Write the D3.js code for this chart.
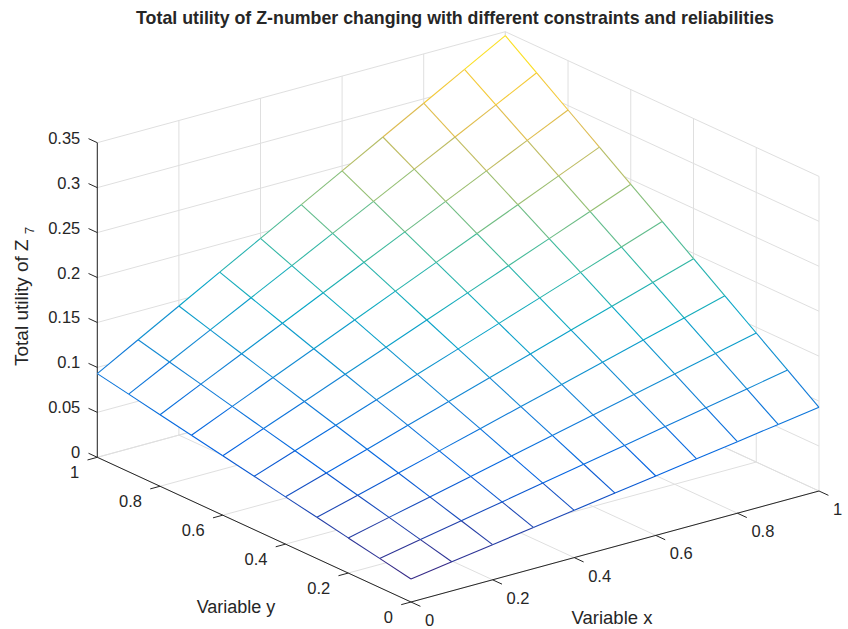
<!DOCTYPE html>
<html><head><meta charset="utf-8">
<script src="https://cdn.jsdelivr.net/npm/d3@7"></script>
<style>
body{margin:0;background:#fff}
text{font-family:"Liberation Sans",Arial,Helvetica,sans-serif;fill:#262626}
</style>
</head><body><svg id="c" width="848" height="629"></svg>
<script>
// ---------------- data ----------------
const xValues = [0,0.1,0.2,0.3,0.4,0.5,0.6,0.7,0.8,0.9,1];
const yValues = [0,0.1,0.2,0.3,0.4,0.5,0.6,0.7,0.8,0.9,1];
// zValues[j][i] : row j = y, column i = x
const zValues = [
 [0.0256,0.0324,0.0391,0.0459,0.0526,0.0594,0.0661,0.0729,0.0796,0.0864,0.0931],
 [0.0324,0.0410,0.0496,0.0582,0.0668,0.0754,0.0840,0.0926,0.1012,0.1098,0.1184],
 [0.0391,0.0496,0.0600,0.0705,0.0809,0.0914,0.1018,0.1123,0.1227,0.1332,0.1436],
 [0.0459,0.0582,0.0705,0.0828,0.0951,0.1074,0.1197,0.1320,0.1443,0.1566,0.1689],
 [0.0526,0.0668,0.0809,0.0951,0.1092,0.1234,0.1375,0.1517,0.1658,0.1800,0.1941],
 [0.0594,0.0754,0.0914,0.1074,0.1234,0.1394,0.1554,0.1714,0.1874,0.2034,0.2194],
 [0.0661,0.0840,0.1018,0.1197,0.1375,0.1554,0.1732,0.1911,0.2089,0.2268,0.2446],
 [0.0729,0.0926,0.1123,0.1320,0.1517,0.1714,0.1911,0.2108,0.2305,0.2502,0.2699],
 [0.0796,0.1012,0.1227,0.1443,0.1658,0.1874,0.2089,0.2305,0.2520,0.2736,0.2951],
 [0.0864,0.1098,0.1332,0.1566,0.1800,0.2034,0.2268,0.2502,0.2736,0.2970,0.3204],
 [0.0931,0.1184,0.1436,0.1689,0.1941,0.2194,0.2446,0.2699,0.2951,0.3204,0.3456]
];
const xTicks = [0,0.2,0.4,0.6,0.8,1];
const yTicks = [0,0.2,0.4,0.6,0.8,1];
const zTicks = [0,0.05,0.1,0.15,0.2,0.25,0.3,0.35];
const titleText = "Total utility of Z-number changing with different constraints and reliabilities";
const xLabelText = "Variable x";
const yLabelText = "Variable y";
const zLabelText = "Total utility of Z";
const zLabelSub = "7";
const parula = ["#352a87","#0363e1","#1485d4","#06a7c6","#38b99e","#92bf73","#d9ba56","#fcce2e","#f9fb0e"];

// ---------------- scales / projection ----------------
const svg = d3.select("#c");
const xs = d3.scaleLinear().domain([0,1]).range([0,1]);
const ys = d3.scaleLinear().domain([0,1]).range([0,1]);
const zs = d3.scaleLinear().domain([0,0.35]).range([0,314.6]);
const O = [411,602], EX = [408,-111], EY = [-313.7,-144.7];
function P(xv,yv,zv){
  const u = xs(xv), v = ys(yv);
  return [O[0]+u*EX[0]+v*EY[0], O[1]+u*EX[1]+v*EY[1]-zs(zv)];
}
const zmin = d3.min(zValues.flat()), zmax = d3.max(zValues.flat());
const color = d3.scaleLinear()
  .domain(parula.map((_,k)=>zmin + k*(zmax-zmin)/(parula.length-1)))
  .range(parula).interpolate(d3.interpolateRgb).clamp(true);

const line = d3.line();
const gridColor = "#dfdfdf", axisColor = "#262626";
const zTop = zs.domain()[1];

// ---------------- grid ----------------
const grid = svg.append("g").attr("stroke",gridColor).attr("stroke-width",1).attr("fill","none");
const gl = [];
xTicks.forEach(t=>{ gl.push([P(t,0,0),P(t,1,0)]); gl.push([P(t,1,0),P(t,1,zTop)]); });
yTicks.forEach(t=>{ gl.push([P(0,t,0),P(1,t,0)]); gl.push([P(1,t,0),P(1,t,zTop)]); });
zTicks.forEach(t=>{ gl.push([P(0,1,t),P(1,1,t)]); gl.push([P(1,0,t),P(1,1,t)]); });
grid.selectAll("path").data(gl).join("path").attr("d",d=>line(d));

// ---------------- axes ----------------
const ax = svg.append("g").attr("stroke",axisColor).attr("stroke-width",1).attr("fill","none");
ax.append("path").attr("d",line([P(0,0,0),P(1,0,0)]));
ax.append("path").attr("d",line([P(0,0,0),P(0,1,0)]));
ax.append("path").attr("d",line([P(0,1,0),P(0,1,zTop)]));
ax.selectAll(".xt").data(xTicks).join("path").attr("d",t=>line([P(t,0,0),P(t,-0.03,0)]));
ax.selectAll(".yt").data(yTicks).join("path").attr("d",t=>line([P(0,t,0),P(-0.024,t,0)]));
ax.selectAll(".zt").data(zTicks).join("path").attr("d",t=>line([P(0,1,t),P(0,1.028,t)]));

const fmt = d3.format("~g");
const tl = svg.append("g").attr("font-size",16.5);
tl.selectAll(".xl").data(xTicks).join("text")
  .attr("x",t=>P(t,0,0)[0]+14).attr("y",t=>P(t,0,0)[1]+18)
  .attr("dominant-baseline","central").attr("text-anchor","start").text(fmt);
tl.selectAll(".yl").data(yTicks).join("text")
  .attr("x",t=>P(0,t,0)[0]-18).attr("y",t=>P(0,t,0)[1]+15)
  .attr("dominant-baseline","central").attr("text-anchor","end").text(fmt);
tl.selectAll(".zl").data(zTicks).join("text")
  .attr("x",t=>P(0,1,t)[0]-17).attr("y",t=>P(0,1,t)[1]-5)
  .attr("dominant-baseline","central").attr("text-anchor","end").text(fmt);

// ---------------- mesh ----------------
const quads = [];
for(let j=0;j<yValues.length-1;j++) for(let i=0;i<xValues.length-1;i++){
  quads.push([P(xValues[i],yValues[j],zValues[j][i]),P(xValues[i+1],yValues[j],zValues[j][i+1]),
              P(xValues[i+1],yValues[j+1],zValues[j+1][i+1]),P(xValues[i],yValues[j+1],zValues[j+1][i])]);
}
svg.append("g").selectAll("path").data(quads).join("path")
  .attr("d",d=>line(d)+"Z").attr("fill","#fff").attr("stroke","#fff").attr("stroke-width",0.8);

const segs = [];
for(let j=0;j<yValues.length;j++) for(let i=0;i<xValues.length;i++){
  if(i<xValues.length-1) segs.push({p:[P(xValues[i],yValues[j],zValues[j][i]),P(xValues[i+1],yValues[j],zValues[j][i+1])],v:zValues[j][i]});
  if(j<yValues.length-1) segs.push({p:[P(xValues[i],yValues[j],zValues[j][i]),P(xValues[i],yValues[j+1],zValues[j+1][i])],v:zValues[j][i]});
}
svg.append("g").attr("fill","none").attr("stroke-width",1.1).selectAll("path").data(segs).join("path")
  .attr("d",d=>line(d.p)).attr("stroke",d=>color(d.v));

// ---------------- labels ----------------
svg.append("text").attr("x",455).attr("y",18).attr("text-anchor","middle").attr("dominant-baseline","central")
  .attr("font-size",17.8).attr("font-weight","bold").attr("fill","#000").text(titleText);
svg.append("text").attr("x",612).attr("y",617).attr("text-anchor","middle").attr("dominant-baseline","central")
  .attr("font-size",18.5).text(xLabelText);
svg.append("text").attr("x",236).attr("y",607).attr("text-anchor","middle").attr("dominant-baseline","central")
  .attr("font-size",18).text(yLabelText);
const zl = svg.append("text").attr("transform","translate(28,366) rotate(-90)").attr("text-anchor","start")
  .attr("font-size",19);
zl.append("tspan").text(zLabelText);
zl.append("tspan").attr("dx",5).attr("dy",6).attr("font-size",13.5).text(zLabelSub);
</script></body></html>
